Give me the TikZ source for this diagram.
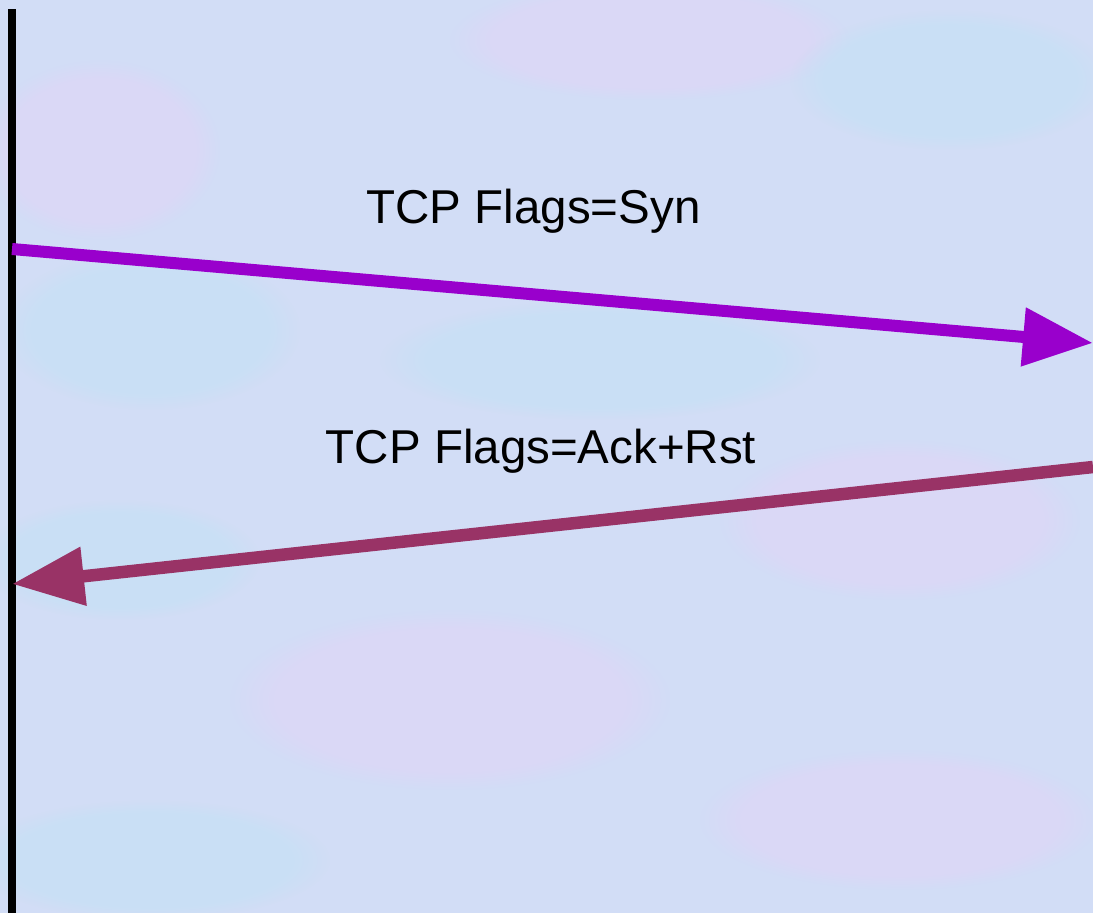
\documentclass[tikz,border=0pt]{standalone}
\usepackage{fontspec}
\setmainfont{Liberation Sans}
\usetikzlibrary{arrows.meta,fadings}
\definecolor{bgbase}{RGB}{210,221,246}
\definecolor{bgpink}{RGB}{226,212,246}
\definecolor{bgcyan}{RGB}{194,226,245}
\definecolor{synpurple}{HTML}{9900CC}
\definecolor{rstred}{HTML}{993366}
\tikzset{
  lifeline/.style={line width=8pt, black},
  msgsyn/.style={line width=12pt, synpurple, -{Triangle[length=70pt,width=56pt]}},
  msgrst/.style={line width=12.5pt, rstred, -{Triangle[length=72pt,width=56pt]}},
  flaglabel/.style={font=\fontsize{47.5}{57}\selectfont, anchor=base, inner sep=0pt, text=black},
  blob/.style={path fading=circle with fuzzy edge 20 percent, opacity=0.5},
}
\begin{document}
\begin{tikzpicture}[x=1pt,y=-1pt]
\useasboundingbox (0,0) rectangle (1093,913);
\fill[bgbase] (0,0) rectangle (1093,913);
\begin{scope}
\clip (0,0) rectangle (1093,913);
\fill[bgpink, blob] (100,150) ellipse (120 and 90);
\fill[bgcyan, blob] (150,330) ellipse (150 and 80);
\fill[bgpink, blob] (650,40) ellipse (200 and 60);
\fill[bgcyan, blob] (950,80) ellipse (160 and 70);
\fill[bgcyan, blob] (600,360) ellipse (220 and 60);
\fill[bgpink, blob] (900,520) ellipse (180 and 80);
\fill[bgcyan, blob] (120,560) ellipse (140 and 60);
\fill[bgpink, blob] (450,700) ellipse (220 and 90);
\fill[bgcyan, blob] (150,860) ellipse (180 and 60);
\fill[bgpink, blob] (900,820) ellipse (200 and 70);
\end{scope}
\coordinate (top) at (12,9);
\coordinate (bottom) at (12,913);
\draw[lifeline] (top) -- (bottom);
\coordinate (synstart) at (12,249);
\coordinate (synend) at (1093,343);
\coordinate (rststart) at (1093,467);
\coordinate (rstend) at (12,584);
\draw[msgsyn] (synstart) -- (synend);
\draw[msgrst] (rststart) -- (rstend);
\node[flaglabel] (synlabel) at (533.5,223) {TCP Flags=Syn};
\node[flaglabel] (rstlabel) at (541,463) {TCP Flags=Ack+Rst};
\end{tikzpicture}
\end{document}
